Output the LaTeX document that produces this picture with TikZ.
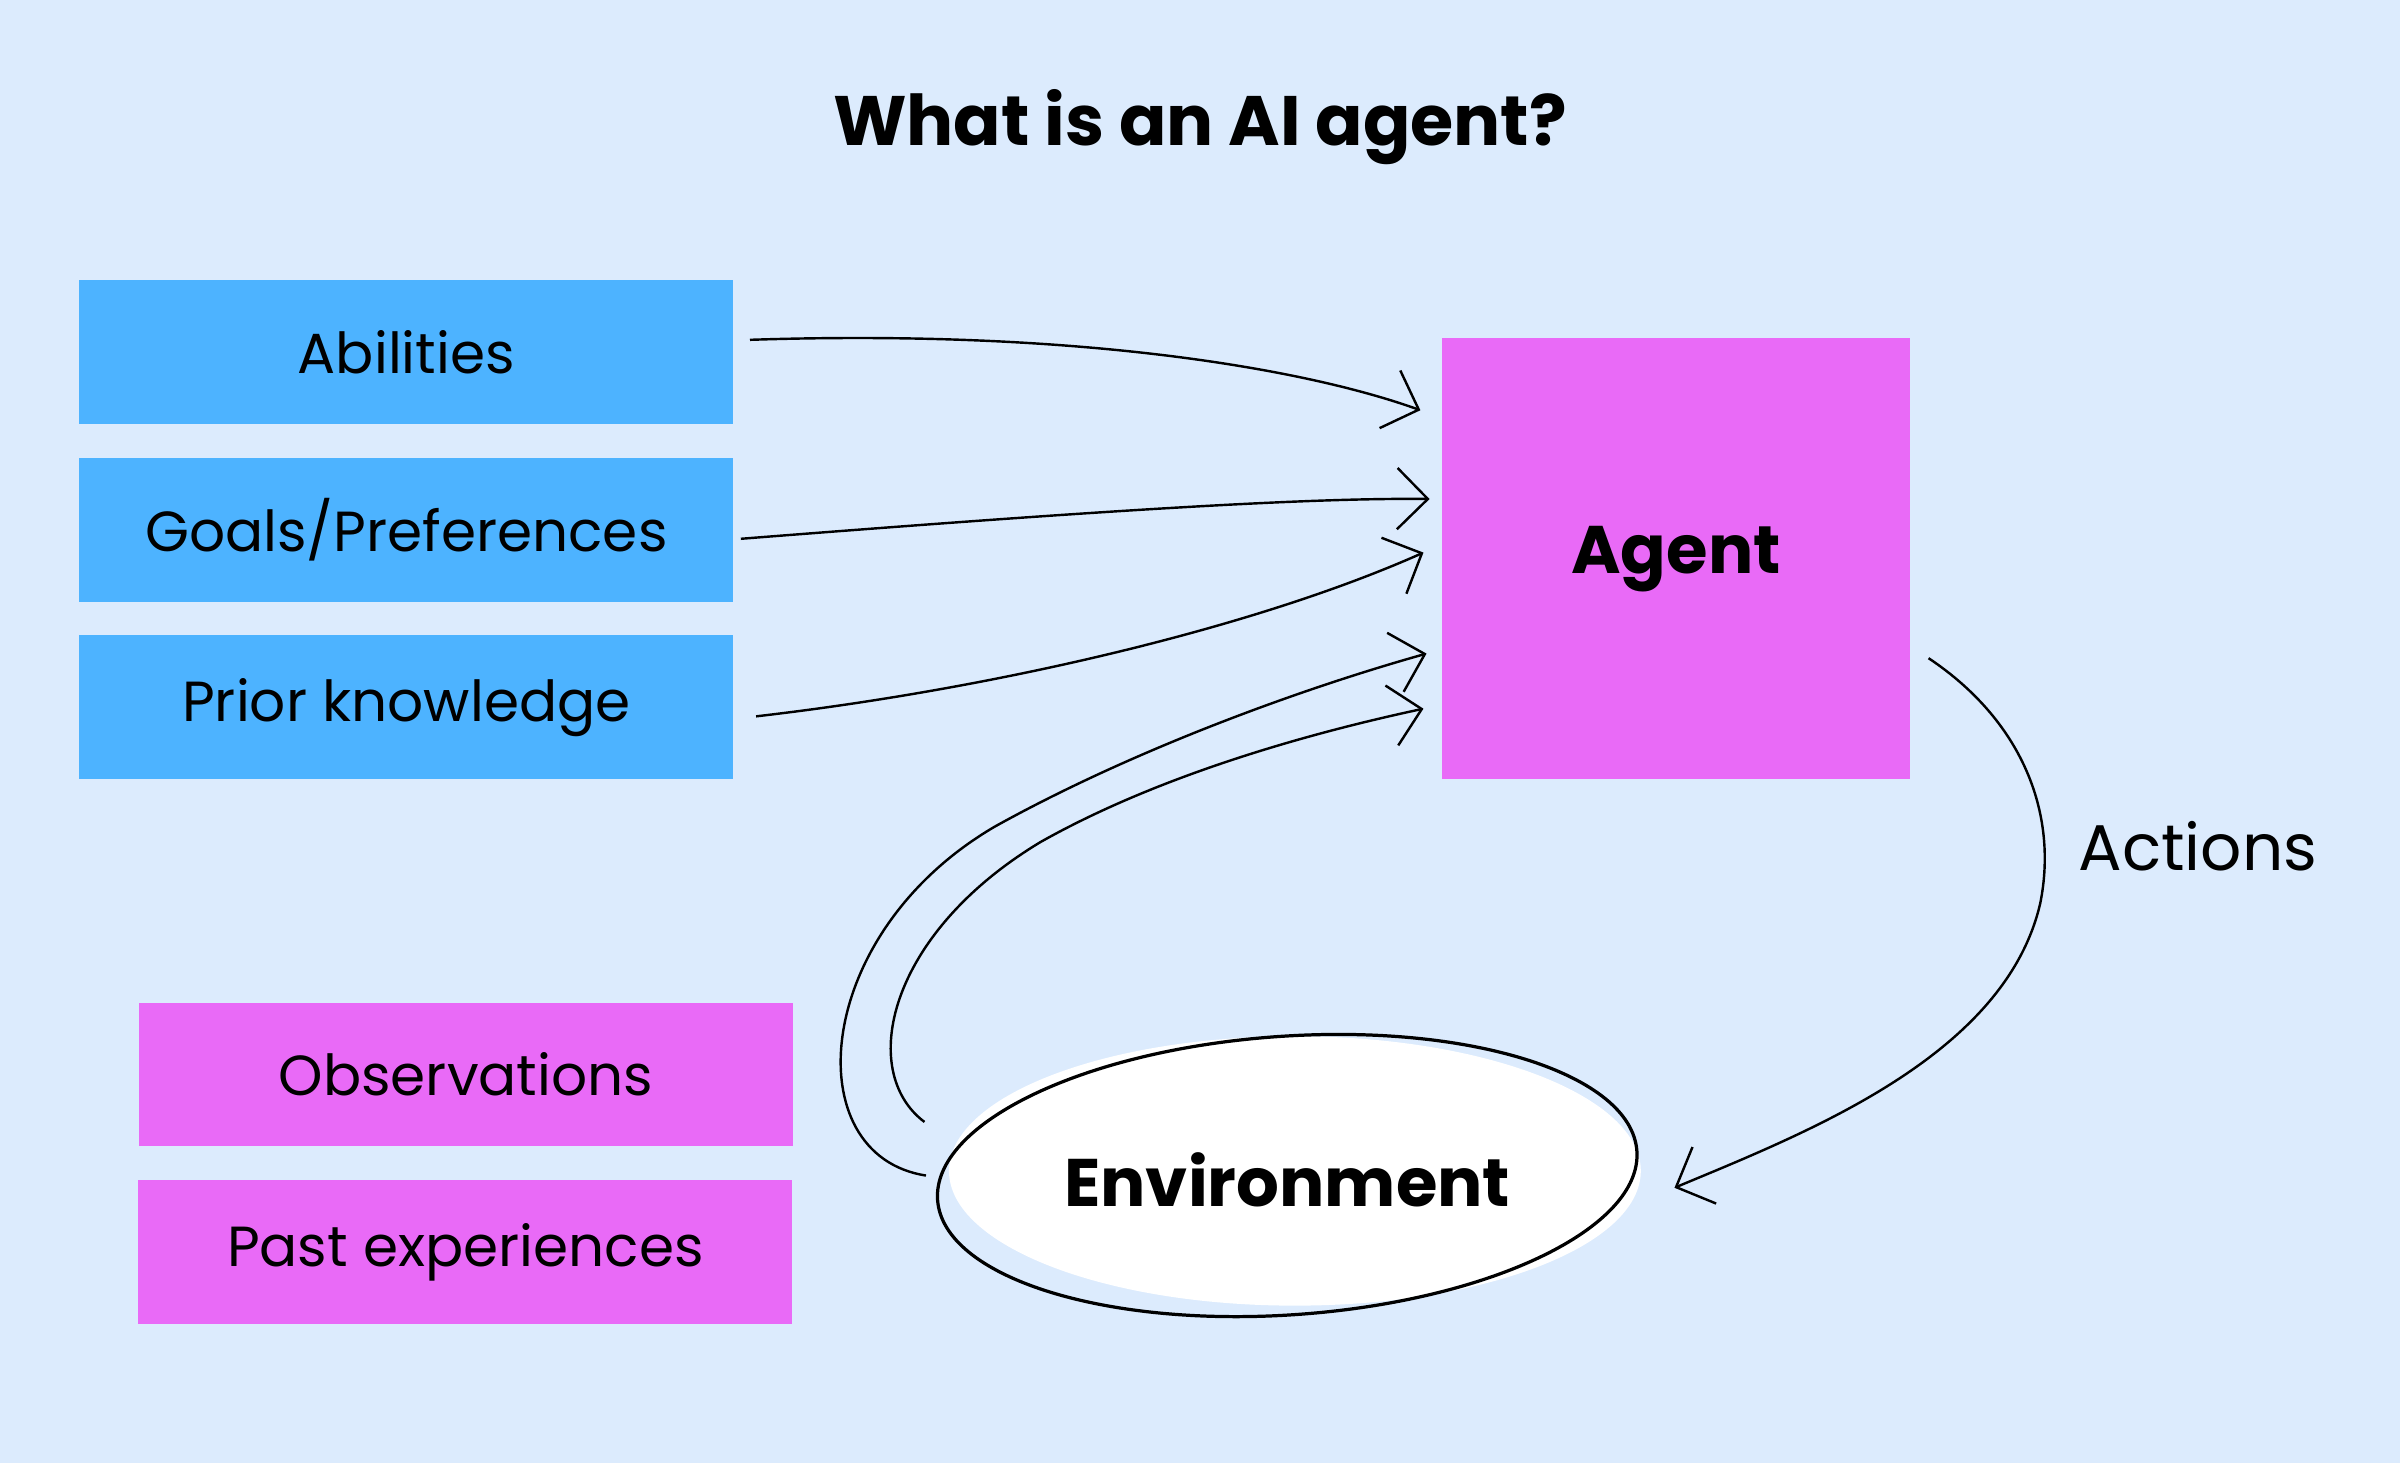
\documentclass[tikz,border=0pt]{standalone}
\usepackage{fontspec}
\setmainfont{Poppins}
\usetikzlibrary{arrows.meta}
\definecolor{bg}{HTML}{DCEBFD}
\definecolor{bluebox}{HTML}{4DB3FF}
\definecolor{magbox}{HTML}{E96AF7}
\begin{document}
\begin{tikzpicture}[x=0.01cm,y=-0.01cm,
  box/.style={draw=none,minimum width=4.27cm,minimum height=0.94cm,inner sep=0pt,font=\fontsize{10.5}{12}\selectfont},
  arr/.style={line width=0.45pt,-{Straight Barb[length=2mm,width=4mm,line width=0.45pt]}}]
\fill[bg] (0,0) rectangle (1568,956);
\useasboundingbox (0,0) rectangle (1568,956);
\node[font=\fontsize{13}{16}\selectfont\bfseries] (title) at (784,83) {What is an AI agent?};
\node[box,fill=bluebox] (ab) at (265.5,230) {Abilities};
\node[box,fill=bluebox] (go) at (265.5,346) {Goals/Preferences};
\node[box,fill=bluebox] (pr) at (265.5,462) {Prior knowledge};
\node[box,fill=magbox] (ob) at (304.5,702) {Observations};
\node[box,fill=magbox] (pa) at (304,818) {Past experiences};
\node[fill=magbox,minimum width=3.06cm,minimum height=2.88cm,inner sep=0pt,font=\fontsize{12.5}{15}\selectfont\bfseries] (ag) at (1095,365) {Agent};
\fill[white] (846,765) ellipse [x radius=226, y radius=88];
\draw[line width=0.6pt,rotate around={4:(841,768)}] (841,768) ellipse [x radius=229, y radius=91];
\node[font=\fontsize{12.5}{15}\selectfont\bfseries] (env) at (841,771) {Environment};
\node[font=\fontsize{12}{14}\selectfont] (act) at (1436,553) {Actions};
\coordinate (s1) at (490,222); \coordinate (t1) at (928,268);
\coordinate (s2) at (484,352); \coordinate (t2) at (934,326);
\coordinate (s3) at (494,468); \coordinate (t3) at (930,361);
\coordinate (s4) at (605,768); \coordinate (t4) at (932,427);
\coordinate (s5) at (604,733); \coordinate (t5) at (930,463);
\coordinate (s6) at (1260,430); \coordinate (t6) at (1094,776);
\draw[arr] (s1) .. controls (700,215) and (850,240) .. (t1);
\draw[arr] (s2) .. controls (700,335) and (850,325) .. (t2);
\draw[arr] (s3) .. controls (650,450) and (820,410) .. (t3);
\draw[arr] (s4) .. controls (520,755) and (530,610) .. (650,540) .. controls (740,490) and (850,450) .. (t4);
\draw[arr] (s5) .. controls (560,700) and (580,610) .. (680,550) .. controls (760,505) and (860,478) .. (t5);
\draw[arr] (s6) .. controls (1320,470) and (1345,530) .. (1333,590) .. controls (1310,690) and (1180,740) .. (t6);
\end{tikzpicture}
\end{document}
